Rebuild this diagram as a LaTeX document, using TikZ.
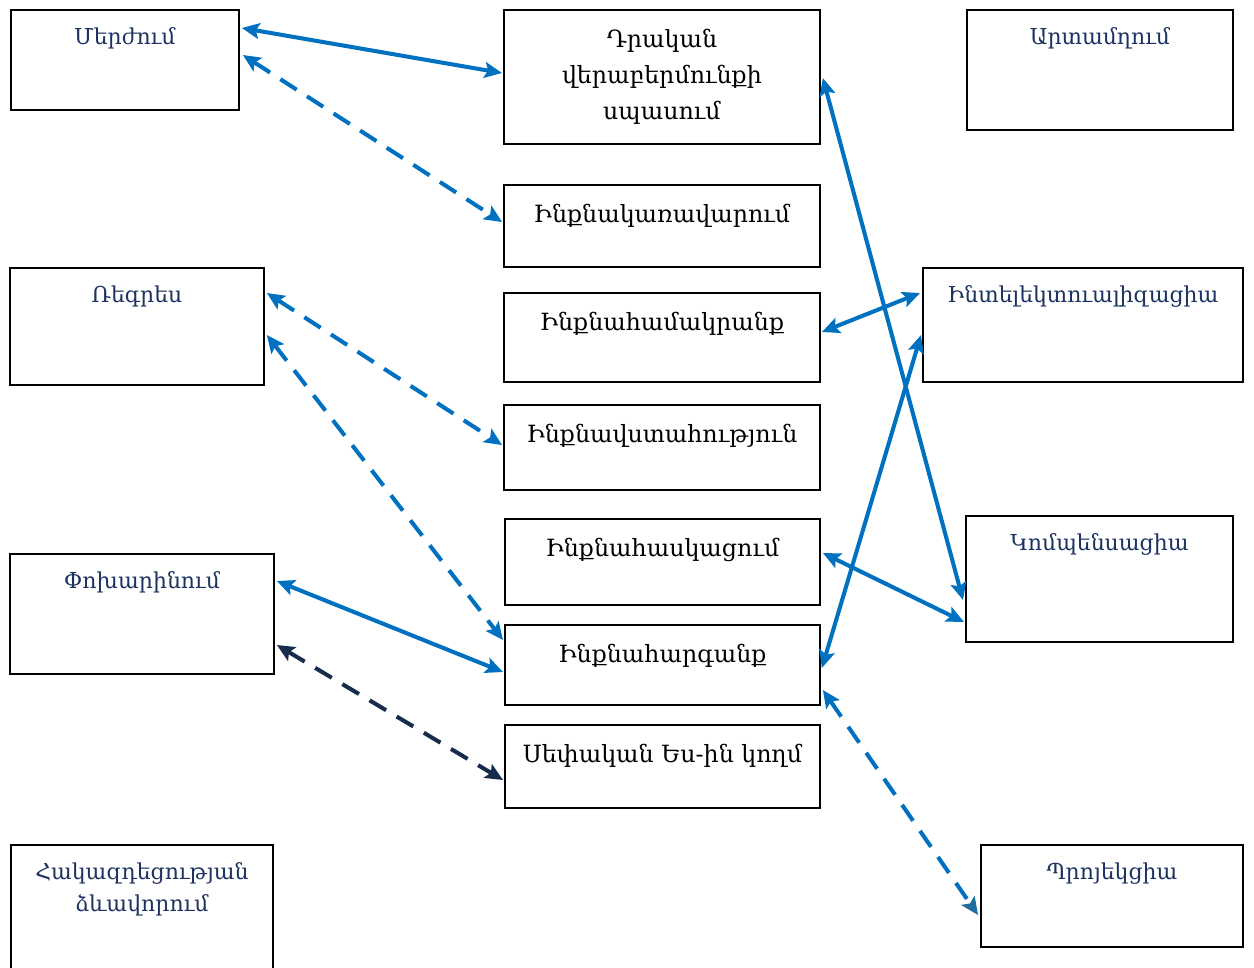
\documentclass[tikz,border=0pt]{standalone}
\usepackage{fontspec}
\setmainfont{DejaVu Serif}
\usetikzlibrary{arrows.meta,calc}
\definecolor{navy}{RGB}{28,50,96}
\definecolor{linkblue}{RGB}{0,112,192}
\definecolor{darklink}{RGB}{23,43,77}
\definecolor{tealtip}{RGB}{31,110,156}
\newcommand{\cell}[3]{\parbox[t][#2][t]{#1}{\centering\vspace*{7pt}\strut #3}}
\begin{document}
\begin{tikzpicture}[x=0.02cm,y=-0.02cm]
      \tikzstyle{entry}=[draw,line width=1.1pt,anchor=north west,inner sep=0pt]
      \tikzstyle{side}=[text=navy,font=\fontsize{12.5}{18}\selectfont]
      \tikzstyle{mid}=[text=black,font=\fontsize{13.5}{20.4}\selectfont]
      \tikzstyle{tie}=[draw,linkblue,line width=2.3pt,{Stealth[length=10pt,width=9pt,inset=2pt]}-{Stealth[length=10pt,width=9pt,inset=2pt]}]
      \tikzstyle{dtie}=[tie,dash pattern=on 11pt off 7pt]
      \useasboundingbox (0,0) rectangle (1254,967);
      \node[entry,side] (mer) at (10,9) {\cell{4.56cm}{2cm}{Մերժում}};
      \node[entry,mid] (drak) at (503,9) {\cell{6.32cm}{2.68cm}{Դրական\\վերաբերմունքի\\սպասում}};
      \node[entry,side] (art) at (966,9) {\cell{5.32cm}{2.4cm}{Արտամղում}};
      \node[entry,mid] (kar) at (503,184) {\cell{6.32cm}{1.64cm}{Ինքնակառավարում}};
      \node[entry,side] (regr) at (9,267) {\cell{5.08cm}{2.34cm}{Ռեգրես}};
      \node[entry,mid] (ham) at (503,292) {\cell{6.32cm}{1.78cm}{Ինքնահամակրանք}};
      \node[entry,side] (intel) at (922,267) {\cell{6.4cm}{2.28cm}{Ինտելեկտուալիզացիա}};
      \node[entry,mid] (vst) at (503,404) {\cell{6.32cm}{1.7cm}{Ինքնավստահություն}};
      \node[entry,mid] (hask) at (504,518) {\cell{6.3cm}{1.72cm}{Ինքնահասկացում}};
      \node[entry,side] (pox) at (9,553) {\cell{5.28cm}{2.4cm}{Փոխարինում}};
      \node[entry,side] (komp) at (965,515) {\cell{5.34cm}{2.52cm}{Կոմպենսացիա}};
      \node[entry,mid] (harg) at (504,624) {\cell{6.3cm}{1.6cm}{Ինքնահարգանք}};
      \node[entry,mid] (sep) at (504,724) {\cell{6.3cm}{1.66cm}{Սեփական Ես-ին կողմ}};
      \node[entry,side] (hak) at (10,844) {\cell{5.24cm}{3cm}{Հակազդեցության\\ձևավորում}};
      \node[entry,side] (proj) at (980,844) {\cell{5.24cm}{2.04cm}{Պրոյեկցիա}};
      \path[tie] ($(mer.north east)+(2,19)$) -- ($(drak.north west)+(-1,64)$);
      \path[dtie] ($(mer.north east)+(3,46)$) -- ($(kar.north west)+(-1,38)$);
      \path[dtie] ($(regr.north east)+(2,26)$) -- ($(vst.north west)+(-1,41)$);
      \path[dtie] ($(regr.north east)+(2,68)$) -- ($(harg.north west)+(-1,16)$);
      \path[tie] ($(pox.north east)+(2,28)$) -- ($(harg.north west)+(-1,48)$);
      \path[dtie,darklink] ($(pox.north east)+(2,92)$) -- ($(sep.north west)+(-1,56)$);
      \path[tie] ($(drak.north east)+(2,69)$) -- ($(komp.north west)+(-2,85)$);
      \path[tie] ($(ham.north east)+(1,40)$) -- ($(intel.north west)+(-2,26)$);
      \path[tie] ($(harg.north east)+(1,44)$) -- ($(intel.north west)+(-1,68)$);
      \path[tie] ($(hask.north east)+(2,35)$) -- ($(komp.north west)+(-1,107)$);
      \path[dtie,{Stealth[length=10pt,width=9pt,inset=2pt]}-{Stealth[length=10pt,width=9pt,inset=2pt,color=tealtip]}] ($(harg.north east)+(2,66)$) -- ($(proj.north west)+(-2,71)$);
\end{tikzpicture}
\end{document}
